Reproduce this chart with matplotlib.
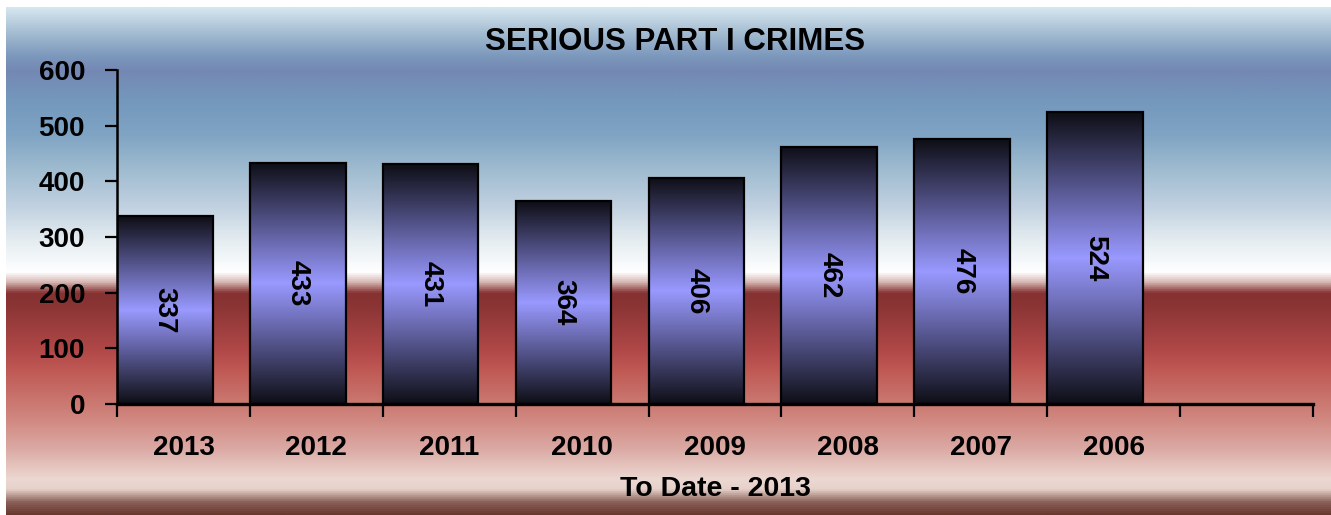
import matplotlib
matplotlib.use("Agg")
import matplotlib.pyplot as plt
import numpy as np
from matplotlib.colors import LinearSegmentedColormap, to_rgb

years = ["2013", "2012", "2011", "2010", "2009", "2008", "2007", "2006"]
crimes = [337, 433, 431, 364, 406, 462, 476, 524]
n_slots = 9  # one empty slot after the last year

W, H = 1331, 515
plt.rcParams["font.family"] = ["Liberation Sans", "DejaVu Sans"]
plt.rcParams["font.weight"] = "bold"

fig = plt.figure(figsize=(W / 100, H / 100), dpi=100)
fig.patch.set_facecolor("white")

# background band: blue sky fading to white, then red to pale pink
bg_stops = [
    (7, "#d6e6f0"), (30, "#a8c0d4"), (55, "#7c98bc"), (70, "#7488b4"),
    (100, "#7498bc"), (135, "#80a4c4"), (170, "#a0bcd0"), (205, "#c0d0e0"),
    (240, "#e4ecf0"), (272, "#ffffff"), (282, "#d8b8b4"), (293, "#863232"),
    (305, "#8a3434"), (350, "#b04848"), (372, "#c05a55"), (420, "#d08880"),
    (450, "#dcaaa5"), (480, "#ecd8d2"), (490, "#e6d2ca"), (503, "#8a6058"),
    (515, "#6a3a30"),
]
y0, y1 = bg_stops[0][0], bg_stops[-1][0]
bg_cmap = LinearSegmentedColormap.from_list(
    "bg", [((y - y0) / (y1 - y0), c) for y, c in bg_stops])
bg = fig.add_axes([6 / W, 0, 1 - 6 / W, 1 - 7 / H], zorder=-1)
bg.imshow(np.linspace(0, 1, 512).reshape(-1, 1), cmap=bg_cmap,
          aspect="auto", extent=(0, 1, 0, 1), interpolation="bilinear")
bg.axis("off")

ax = fig.add_axes([117 / W, 1 - 404 / H, (1313 - 117) / W, (404 - 70) / H])
ax.patch.set_alpha(0)

# bar fill: dark at both ends, light violet in the middle
dark = np.array(to_rgb("#0e0e16"))
light = np.array(to_rgb("#9999ff"))
t = 1 - np.abs(np.linspace(-1, 1, 256))
grad = dark + (light - dark) * t[:, None]
grad = grad[:, None, :]

bar_w = 0.72
x = np.arange(len(crimes))
for xi, v in zip(x, crimes):
    ax.imshow(grad, extent=(xi, xi + bar_w, 0, v), aspect="auto",
              interpolation="bilinear", zorder=2)
bars = ax.bar(x, crimes, width=bar_w, align="edge", facecolor="none",
              edgecolor="black", linewidth=1.6, zorder=3)
for xi, v in zip(x, crimes):
    ax.text(xi + bar_w / 2, v / 2, str(v), rotation=-90, ha="center",
            va="center", fontsize=20, fontweight="bold", zorder=4)

ax.set_xlim(0, n_slots)
ax.set_ylim(0, 600)
ax.set_yticks(range(0, 601, 100))
ax.set_xticks(np.arange(n_slots) + 0.5)
ax.set_xticklabels(years + [""])
ax.set_xticks(np.arange(n_slots + 1), minor=True)
ax.tick_params(axis="x", which="major", length=0, pad=22, labelsize=20)
ax.tick_params(axis="x", which="minor", length=9, width=1.6, direction="out")
ax.tick_params(axis="y", length=9, width=1.6, direction="out", pad=14,
               labelsize=20)

for side in ("top", "right"):
    ax.spines[side].set_visible(False)
ax.spines["left"].set_linewidth(1.8)
ax.spines["bottom"].set_linewidth(2.4)
ax.spines["bottom"].set_zorder(5)

fig.text(675 / W, 1 - 42 / H, "SERIOUS PART I CRIMES", ha="center",
         va="center", fontsize=22.5, fontweight="bold")
fig.text(715 / W, 1 - 489 / H, "To Date - 2013", ha="center", va="center",
         fontsize=20.5, fontweight="bold")

fig.savefig("out.png", dpi=100)
